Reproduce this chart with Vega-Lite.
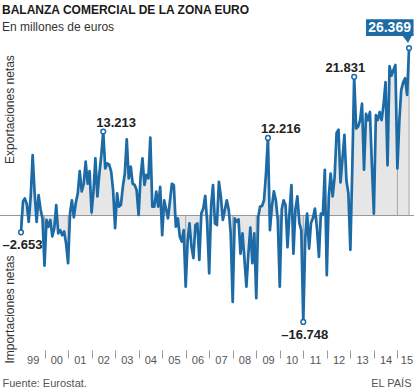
{
  "$schema": "https://vega.github.io/schema/vega-lite/v6.json",
  "width": 414,
  "height": 310,
  "autosize": {"type": "none"},
  "padding": {"left": 0, "right": 0, "top": 40, "bottom": 42},
  "background": "white",
  "config": {
    "view": {"stroke": null},
    "font": "Liberation Sans",
    "locale": {"number": {"decimal": ",", "thousands": ".", "grouping": [3], "currency": ["", " €"], "minus": "–"}}
  },
  "title": {
    "text": "BALANZA COMERCIAL DE LA ZONA EURO",
    "subtitle": "En millones de euros",
    "anchor": "start",
    "frame": "group",
    "dx": 2,
    "dy": 20,
    "offset": 5,
    "font": "Liberation Sans",
    "fontSize": 12,
    "fontWeight": "bold",
    "color": "#1a1a1a",
    "subtitleFont": "Liberation Sans",
    "subtitleFontSize": 12,
    "subtitleColor": "#333333",
    "subtitlePadding": 5
  },
  "data": {"values": [
    {"d":"1999-01","v":-2653,"l":1},{"d":"1999-02","v":2200},{"d":"1999-03","v":2700},{"d":"1999-04","v":1800},{"d":"1999-05","v":-1000},{"d":"1999-06","v":3000},{"d":"1999-07","v":9500},{"d":"1999-08","v":3500},{"d":"1999-09","v":-1000},{"d":"1999-10","v":3200},{"d":"1999-11","v":1000},{"d":"1999-12","v":-500},
    {"d":"2000-01","v":-7900},{"d":"2000-02","v":-700},{"d":"2000-03","v":-1800},{"d":"2000-04","v":-700},{"d":"2000-05","v":-3300},{"d":"2000-06","v":-2000},{"d":"2000-07","v":1650},{"d":"2000-08","v":-2800},{"d":"2000-09","v":-2300},{"d":"2000-10","v":-3100},{"d":"2000-11","v":-2500},{"d":"2000-12","v":-4400},
    {"d":"2001-01","v":-7500},{"d":"2001-02","v":400},{"d":"2001-03","v":2400},{"d":"2001-04","v":-300},{"d":"2001-05","v":2000},{"d":"2001-06","v":3500},{"d":"2001-07","v":7000},{"d":"2001-08","v":3800},{"d":"2001-09","v":5000},{"d":"2001-10","v":8500},{"d":"2001-11","v":5000},{"d":"2001-12","v":7000},
    {"d":"2002-01","v":500},{"d":"2002-02","v":4000},{"d":"2002-03","v":9000},{"d":"2002-04","v":3000},{"d":"2002-05","v":6500},{"d":"2002-06","v":9500},{"d":"2002-07","v":13213,"l":1},{"d":"2002-08","v":7400},{"d":"2002-09","v":8200},{"d":"2002-10","v":8000},{"d":"2002-11","v":6900},{"d":"2002-12","v":4000},
    {"d":"2003-01","v":-2000},{"d":"2003-02","v":3500},{"d":"2003-03","v":1400},{"d":"2003-04","v":1650},{"d":"2003-05","v":4500},{"d":"2003-06","v":6600},{"d":"2003-07","v":12000},{"d":"2003-08","v":5850},{"d":"2003-09","v":7700},{"d":"2003-10","v":5000},{"d":"2003-11","v":4800},{"d":"2003-12","v":4000},
    {"d":"2004-01","v":80},{"d":"2004-02","v":6100},{"d":"2004-03","v":9000},{"d":"2004-04","v":4800},{"d":"2004-05","v":6400},{"d":"2004-06","v":5850},{"d":"2004-07","v":12250},{"d":"2004-08","v":1400},{"d":"2004-09","v":1400},{"d":"2004-10","v":3750},{"d":"2004-11","v":1400},{"d":"2004-12","v":4500},
    {"d":"2005-01","v":-3100},{"d":"2005-02","v":2400},{"d":"2005-03","v":1100},{"d":"2005-04","v":-450},{"d":"2005-05","v":2200},{"d":"2005-06","v":5000},{"d":"2005-07","v":4800},{"d":"2005-08","v":-1750},{"d":"2005-09","v":-450},{"d":"2005-10","v":-3300},{"d":"2005-11","v":-4100},{"d":"2005-12","v":-2300},
    {"d":"2006-01","v":-11200},{"d":"2006-02","v":-3900},{"d":"2006-03","v":-1250},{"d":"2006-04","v":-4900},{"d":"2006-05","v":-6700},{"d":"2006-06","v":-1500},{"d":"2006-07","v":-1250},{"d":"2006-08","v":-7000},{"d":"2006-09","v":350},{"d":"2006-10","v":1100},{"d":"2006-11","v":3100},{"d":"2006-12","v":-1250},
    {"d":"2007-01","v":-9100},{"d":"2007-02","v":1650},{"d":"2007-03","v":4800},{"d":"2007-04","v":-1250},{"d":"2007-05","v":-1500},{"d":"2007-06","v":5300},{"d":"2007-07","v":3000},{"d":"2007-08","v":-700},{"d":"2007-09","v":850},{"d":"2007-10","v":2400},{"d":"2007-11","v":850},{"d":"2007-12","v":-2800},
    {"d":"2008-01","v":-13600},{"d":"2008-02","v":-450},{"d":"2008-03","v":-1000},{"d":"2008-04","v":-600},{"d":"2008-05","v":-6000},{"d":"2008-06","v":-2800},{"d":"2008-07","v":-6800},{"d":"2008-08","v":-11200},{"d":"2008-09","v":-6000},{"d":"2008-10","v":-1900},{"d":"2008-11","v":-7500},{"d":"2008-12","v":-2800},
    {"d":"2009-01","v":-13000},{"d":"2009-02","v":-200},{"d":"2009-03","v":1400},{"d":"2009-04","v":1500},{"d":"2009-05","v":2400},{"d":"2009-06","v":6600},{"d":"2009-07","v":12216,"l":1},{"d":"2009-08","v":-2300},{"d":"2009-09","v":1400},{"d":"2009-10","v":3800},{"d":"2009-11","v":2400},{"d":"2009-12","v":-700},
    {"d":"2010-01","v":-11200},{"d":"2010-02","v":1000},{"d":"2010-03","v":2400},{"d":"2010-04","v":1600},{"d":"2010-05","v":-5000},{"d":"2010-06","v":500},{"d":"2010-07","v":4800},{"d":"2010-08","v":-6000},{"d":"2010-09","v":1000},{"d":"2010-10","v":3000},{"d":"2010-11","v":-1200},{"d":"2010-12","v":-2300},
    {"d":"2011-01","v":-16748,"l":1},{"d":"2011-02","v":-3500},{"d":"2011-03","v":300},{"d":"2011-04","v":-5200},{"d":"2011-05","v":-1200},{"d":"2011-06","v":-400},{"d":"2011-07","v":1100},{"d":"2011-08","v":-2000},{"d":"2011-09","v":-6500},{"d":"2011-10","v":300},{"d":"2011-11","v":100},{"d":"2011-12","v":7200},
    {"d":"2012-01","v":-9400},{"d":"2012-02","v":3000},{"d":"2012-03","v":6600},{"d":"2012-04","v":3000},{"d":"2012-05","v":6000},{"d":"2012-06","v":13000},{"d":"2012-07","v":13500},{"d":"2012-08","v":5200},{"d":"2012-09","v":9000},{"d":"2012-10","v":12700},{"d":"2012-11","v":5500},{"d":"2012-12","v":3500},
    {"d":"2013-01","v":-5400},{"d":"2013-02","v":8000},{"d":"2013-03","v":21831,"l":1},{"d":"2013-04","v":13700},{"d":"2013-05","v":14000},{"d":"2013-06","v":15000},{"d":"2013-07","v":17600},{"d":"2013-08","v":7200},{"d":"2013-09","v":16000},{"d":"2013-10","v":15000},{"d":"2013-11","v":16300},{"d":"2013-12","v":8000},
    {"d":"2014-01","v":300},{"d":"2014-02","v":15800},{"d":"2014-03","v":15000},{"d":"2014-04","v":16300},{"d":"2014-05","v":15000},{"d":"2014-06","v":17500},{"d":"2014-07","v":21000},{"d":"2014-08","v":7900},{"d":"2014-09","v":23500},{"d":"2014-10","v":22000},{"d":"2014-11","v":22900},{"d":"2014-12","v":23700},
    {"d":"2015-01","v":7400},{"d":"2015-02","v":15000},{"d":"2015-03","v":19700},{"d":"2015-04","v":21000},{"d":"2015-05","v":21600},{"d":"2015-06","v":19000},{"d":"2015-07","v":26369,"l":1}
  ]},
  "layer": [
    {
      "mark": {"type": "area", "color": "#e6e6e6", "stroke": "#a6a6a6", "strokeWidth": 1},
      "encoding": {
        "x": {
          "field": "d", "type": "temporal",
          "scale": {"type": "utc", "domain": [{"year": 1998, "month": 2, "date": 9, "utc": true}, {"year": 2015, "month": 9, "date": 16, "utc": true}]},
          "axis": {
            "values": [
              {"year": 1999, "utc": true}, {"year": 2000, "utc": true}, {"year": 2001, "utc": true}, {"year": 2002, "utc": true},
              {"year": 2003, "utc": true}, {"year": 2004, "utc": true}, {"year": 2005, "utc": true}, {"year": 2006, "utc": true},
              {"year": 2007, "utc": true}, {"year": 2008, "utc": true}, {"year": 2009, "utc": true}, {"year": 2010, "utc": true},
              {"year": 2011, "utc": true}, {"year": 2012, "utc": true}, {"year": 2013, "utc": true}, {"year": 2014, "utc": true},
              {"year": 2015, "utc": true}
            ],
            "tickCount": 40,
            "labelExpr": "utcFormat(datum.value, '%y')",
            "labelOffset": {"condition": {"test": "utcyear(datum.value) == 2015", "value": 9}, "value": 11.75},
            "labelFlush": false,
            "labelOverlap": false,
            "labelFontSize": 11,
            "labelColor": "#555555",
            "labelPadding": -4,
            "tickSize": 8,
            "tickColor": "#999999",
            "tickOpacity": {"condition": {"test": "utcyear(datum.value) == 1999", "value": 0}, "value": 1},
            "domain": false,
            "grid": false,
            "title": "Fuente: Eurostat.",
            "titleX": 2,
            "titleY": 36,
            "titleAlign": "left",
            "titleBaseline": "alphabetic",
            "titleAngle": 0,
            "titleFontSize": 11,
            "titleFontWeight": "normal",
            "titleColor": "#555555"
          }
        },
        "y": {
          "field": "v", "type": "quantitative",
          "scale": {"domain": [-21170, 27624], "nice": false, "zero": false},
          "axis": {
            "values": [16760, -14720],
            "labelExpr": "datum.value > 0 ? 'Exportaciones netas' : 'Importaciones netas'",
            "labelAngle": -90,
            "labelAlign": "center",
            "labelBaseline": "alphabetic",
            "labelPadding": -13,
            "labelFontSize": 12,
            "labelColor": "#333333",
            "labelOverlap": false,
            "labelFlush": false,
            "ticks": false,
            "tickSize": 0,
            "domain": false,
            "grid": false,
            "title": "EL PAÍS",
            "titleX": 411,
            "titleY": 346,
            "titleAngle": 0,
            "titleAlign": "right",
            "titleBaseline": "alphabetic",
            "titleFontSize": 11,
            "titleFontWeight": "normal",
            "titleColor": "#555555"
          }
        },
        "y2": {"datum": 0}
      }
    },
    {
      "transform": [{"filter": "utcmonth(datum.d) == 0"}],
      "mark": {"type": "rule", "color": "#a6a6a6", "strokeWidth": 1},
      "encoding": {
        "x": {"field": "d", "type": "temporal"},
        "y": {"field": "v", "type": "quantitative"},
        "y2": {"datum": 0}
      }
    },
    {
      "mark": {"type": "rule", "color": "#999999", "strokeWidth": 1},
      "encoding": {"y": {"datum": 0, "type": "quantitative"}}
    },
    {
      "mark": {"type": "line", "color": "#1c6aa6", "strokeWidth": 2.7, "strokeJoin": "round"},
      "encoding": {
        "x": {"field": "d", "type": "temporal"},
        "y": {"field": "v", "type": "quantitative"}
      }
    },
    {
      "transform": [{"filter": "datum.l == 1 && datum.v > 25000"}],
      "mark": {"type": "point", "shape": "M-0.86,-0.574L0.09,-0.574L0.09,-0.24L0.054,-0.24L-0.02,-0.1L-0.126,-0.24L-0.86,-0.24Z", "size": 10000, "filled": true, "color": "#1c6aa6", "opacity": 1, "strokeWidth": 0},
      "encoding": {
        "x": {"field": "d", "type": "temporal"},
        "y": {"field": "v", "type": "quantitative"}
      }
    },
    {
      "transform": [{"filter": "datum.l == 1"}],
      "mark": {"type": "point", "filled": true, "fill": "white", "stroke": "#1c6aa6", "strokeWidth": 1.5, "size": 22, "opacity": 1},
      "encoding": {
        "x": {"field": "d", "type": "temporal"},
        "y": {"field": "v", "type": "quantitative"}
      }
    },
    {
      "transform": [{"filter": "datum.l == 1 && datum.v > 0 && datum.v < 20000"}],
      "mark": {"type": "text", "align": "left", "baseline": "alphabetic", "dx": -7, "dy": -5, "fontSize": 13, "fontWeight": "bold", "color": "#222222"},
      "encoding": {
        "x": {"field": "d", "type": "temporal"},
        "y": {"field": "v", "type": "quantitative"},
        "text": {"field": "v", "type": "quantitative", "format": ",.0f"}
      }
    },
    {
      "transform": [{"filter": "datum.l == 1 && datum.v > 20000 && datum.v < 25000"}],
      "mark": {"type": "text", "align": "right", "baseline": "alphabetic", "dx": 11, "dy": -5, "fontSize": 13, "fontWeight": "bold", "color": "#222222"},
      "encoding": {
        "x": {"field": "d", "type": "temporal"},
        "y": {"field": "v", "type": "quantitative"},
        "text": {"field": "v", "type": "quantitative", "format": ",.0f"}
      }
    },
    {
      "transform": [{"filter": "datum.l == 1 && datum.v < 0"}],
      "mark": {"type": "text", "align": "center", "baseline": "alphabetic", "dx": 1.5, "dy": 17, "fontSize": 13, "fontWeight": "bold", "color": "#222222"},
      "encoding": {
        "x": {"field": "d", "type": "temporal"},
        "y": {"field": "v", "type": "quantitative"},
        "text": {"field": "v", "type": "quantitative", "format": ",.0f"}
      }
    },
    {
      "transform": [{"filter": "datum.l == 1 && datum.v > 25000"}],
      "mark": {"type": "text", "align": "center", "baseline": "alphabetic", "dx": -19.5, "dy": -15.5, "fontSize": 14, "fontWeight": "bold", "color": "white"},
      "encoding": {
        "x": {"field": "d", "type": "temporal"},
        "y": {"field": "v", "type": "quantitative"},
        "text": {"field": "v", "type": "quantitative", "format": ",.0f"}
      }
    }
  ]
}
